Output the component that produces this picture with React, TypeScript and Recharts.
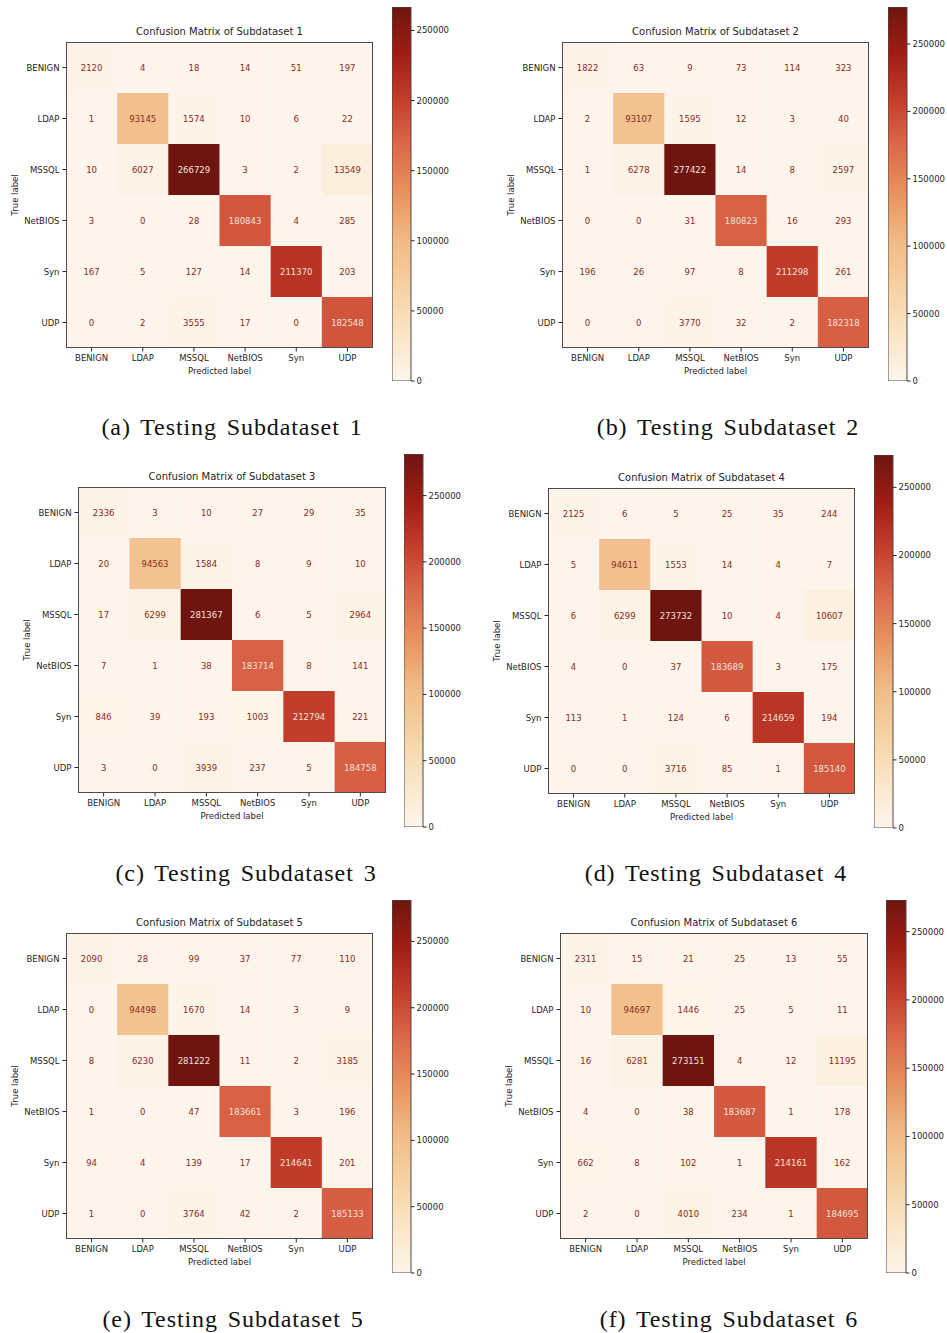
import React from 'react';
import { ScatterChart, Scatter, XAxis, YAxis, BarChart, Bar } from 'recharts';

// class labels (rows = true label, columns = predicted label)
const classes = ['BENIGN', 'LDAP', 'MSSQL', 'NetBIOS', 'Syn', 'UDP'];
const classIdx = [0, 1, 2, 3, 4, 5];

const matrix1 = [
  [2120, 4, 18, 14, 51, 197],
  [1, 93145, 1574, 10, 6, 22],
  [10, 6027, 266729, 3, 2, 13549],
  [3, 0, 28, 180843, 4, 285],
  [167, 5, 127, 14, 211370, 203],
  [0, 2, 3555, 17, 0, 182548],
];
const matrix2 = [
  [1822, 63, 9, 73, 114, 323],
  [2, 93107, 1595, 12, 3, 40],
  [1, 6278, 277422, 14, 8, 2597],
  [0, 0, 31, 180823, 16, 293],
  [196, 26, 97, 8, 211298, 261],
  [0, 0, 3770, 32, 2, 182318],
];
const matrix3 = [
  [2336, 3, 10, 27, 29, 35],
  [20, 94563, 1584, 8, 9, 10],
  [17, 6299, 281367, 6, 5, 2964],
  [7, 1, 38, 183714, 8, 141],
  [846, 39, 193, 1003, 212794, 221],
  [3, 0, 3939, 237, 5, 184758],
];
const matrix4 = [
  [2125, 6, 5, 25, 35, 244],
  [5, 94611, 1553, 14, 4, 7],
  [6, 6299, 273732, 10, 4, 10607],
  [4, 0, 37, 183689, 3, 175],
  [113, 1, 124, 6, 214659, 194],
  [0, 0, 3716, 85, 1, 185140],
];
const matrix5 = [
  [2090, 28, 99, 37, 77, 110],
  [0, 94498, 1670, 14, 3, 9],
  [8, 6230, 281222, 11, 2, 3185],
  [1, 0, 47, 183661, 3, 196],
  [94, 4, 139, 17, 214641, 201],
  [1, 0, 3764, 42, 2, 185133],
];
const matrix6 = [
  [2311, 15, 21, 25, 13, 55],
  [10, 94697, 1446, 25, 5, 11],
  [16, 6281, 273151, 4, 12, 11195],
  [4, 0, 38, 183687, 1, 178],
  [662, 8, 102, 1, 214161, 162],
  [2, 0, 4010, 234, 1, 184695],
];

const titles = [
  'Confusion Matrix of Subdataset 1',
  'Confusion Matrix of Subdataset 2',
  'Confusion Matrix of Subdataset 3',
  'Confusion Matrix of Subdataset 4',
  'Confusion Matrix of Subdataset 5',
  'Confusion Matrix of Subdataset 6',
];
const captions = [
  '(a) Testing Subdataset 1',
  '(b) Testing Subdataset 2',
  '(c) Testing Subdataset 3',
  '(d) Testing Subdataset 4',
  '(e) Testing Subdataset 5',
  '(f) Testing Subdataset 6',
];
const colorbarTicks = [0, 50000, 100000, 150000, 200000, 250000];

// OrRd-like colour ramp (as it looks in the figure)
const cmapStops: [number, string][] = [
  [0, '#fdf5eb'],
  [0.125, '#fae5c8'],
  [0.25, '#f5d2a3'],
  [0.375, '#f0bb87'],
  [0.5, '#e8935f'],
  [0.625, '#dc6a4c'],
  [0.75, '#c43e2d'],
  [0.875, '#a01d14'],
  [1, '#6e1510'],
];

function hexToRgb(h: string) {
  return [1, 3, 5].map((i) => parseInt(h.slice(i, i + 2), 16));
}

function cmap(t: number) {
  t = Math.max(0, Math.min(1, t));
  for (let i = 1; i < cmapStops.length; i++) {
    const [t1, c1] = cmapStops[i];
    const [t0, c0] = cmapStops[i - 1];
    if (t <= t1) {
      const f = (t - t0) / (t1 - t0);
      const a = hexToRgb(c0);
      const b = hexToRgb(c1);
      const rgb = a.map((v, k) => Math.round(v + (b[k] - v) * f));
      return `rgb(${rgb.join(',')})`;
    }
  }
  return cmapStops[cmapStops.length - 1][1];
}

const FONT = "'DejaVu Sans', sans-serif";
const TEXT = '#262626';
const tickStyle = { fontSize: 8.5, fill: TEXT, fontFamily: FONT };

type Box = { x: number; y: number; w: number; h: number };

// layout of the six panels
const panels = [
  { hm: { x: 66, y: 42, w: 307, h: 306 }, cb: { x: 392, y: 7, w: 19, h: 374 }, cap: { x: 232, y: 427 } },
  { hm: { x: 562, y: 42, w: 307, h: 306 }, cb: { x: 888, y: 7, w: 19, h: 374 }, cap: { x: 728, y: 427 } },
  { hm: { x: 78, y: 487, w: 308, h: 306 }, cb: { x: 404, y: 454, w: 19, h: 373 }, cap: { x: 246, y: 873 } },
  { hm: { x: 548, y: 488, w: 307, h: 306 }, cb: { x: 874, y: 455, w: 19, h: 373 }, cap: { x: 716, y: 873 } },
  { hm: { x: 66, y: 933, w: 307, h: 306 }, cb: { x: 392, y: 900, w: 19, h: 373 }, cap: { x: 233, y: 1319 } },
  { hm: { x: 560, y: 933, w: 308, h: 306 }, cb: { x: 886, y: 900, w: 20, h: 373 }, cap: { x: 729, y: 1319 } },
];
const matrices = [matrix1, matrix2, matrix3, matrix4, matrix5, matrix6];

function Heatmap({ m, box, title }: { m: number[][]; box: Box; title: string }) {
  const vmax = Math.max(...m.flat());
  const vmin = Math.min(...m.flat());
  const thresh = (vmax + vmin) / 2;
  const data = m.flatMap((row, i) => row.map((v, j) => ({ col: j, row: i, v })));
  const cw = box.w / 6;
  const ch = box.h / 6;
  const padL = 70;
  const padB = 30;
  const W = box.w + padL + 4;
  const H = box.h + padB;

  const renderCell = (p: any) => {
    const v = p.payload.v;
    return (
      <g>
        <rect
          x={p.cx - cw / 2}
          y={p.cy - ch / 2}
          width={cw + 0.5}
          height={ch + 0.5}
          fill={cmap(v / vmax)}
        />
        <text
          x={p.cx}
          y={p.cy}
          textAnchor="middle"
          dominantBaseline="central"
          fontSize={8.5}
          fontFamily={FONT}
          fill={v > thresh ? '#f4e2d6' : '#8e2a22'}
        >
          {v}
        </text>
      </g>
    );
  };

  return (
    <>
      <div
        style={{
          position: 'absolute',
          left: box.x,
          top: box.y - 16,
          width: box.w,
          textAlign: 'center',
          fontFamily: FONT,
          fontSize: 10,
          lineHeight: '12px',
          color: TEXT,
          whiteSpace: 'nowrap',
        }}
      >
        {title}
      </div>
      <div style={{ position: 'absolute', left: box.x - padL, top: box.y }}>
        <ScatterChart width={W} height={H} margin={{ top: 0, right: 4, left: 0, bottom: 0 }}>
          <XAxis
            type="number"
            dataKey="col"
            domain={[-0.5, 5.5]}
            allowDataOverflow
            ticks={classIdx}
            interval={0}
            tickFormatter={(i: number) => classes[i]}
            height={padB}
            axisLine={false}
            tickLine={{ stroke: TEXT }}
            tickSize={3.5}
            tickMargin={3}
            tick={tickStyle}
            label={{ value: 'Predicted label', position: 'insideBottom', offset: 4, style: { ...tickStyle } }}
          />
          <YAxis
            type="number"
            dataKey="row"
            domain={[-0.5, 5.5]}
            allowDataOverflow
            reversed
            ticks={classIdx}
            interval={0}
            tickFormatter={(i: number) => classes[i]}
            width={padL}
            axisLine={false}
            tickLine={{ stroke: TEXT }}
            tickSize={3.5}
            tickMargin={3}
            tick={tickStyle}
            label={{
              value: 'True label',
              angle: -90,
              position: 'insideLeft',
              offset: 19,
              style: { ...tickStyle, textAnchor: 'middle' },
            }}
          />
          <Scatter data={data} shape={renderCell} isAnimationActive={false} />
        </ScatterChart>
      </div>
      <div
        style={{
          position: 'absolute',
          left: box.x,
          top: box.y,
          width: box.w,
          height: box.h,
          boxSizing: 'border-box',
          border: '1px solid #4a4a4a',
          pointerEvents: 'none',
        }}
      />
    </>
  );
}

function Colorbar({ vmax, box, id }: { vmax: number; box: Box; id: string }) {
  const data = [{ name: 'cb', v: vmax }];
  const pad = 6;
  return (
    <div style={{ position: 'absolute', left: box.x, top: box.y - pad }}>
      <BarChart
        width={box.w + 52}
        height={box.h + pad * 2}
        data={data}
        margin={{ top: pad, right: 0, left: 0, bottom: pad }}
        barCategoryGap={0}
      >
        <defs>
          <linearGradient id={id} x1="0" y1="1" x2="0" y2="0">
            {cmapStops.map(([t, c]) => (
              <stop key={t} offset={`${t * 100}%`} stopColor={c} />
            ))}
          </linearGradient>
        </defs>
        <XAxis dataKey="name" hide />
        <YAxis
          orientation="right"
          domain={[0, vmax]}
          allowDataOverflow
          ticks={colorbarTicks}
          interval={0}
          width={52}
          axisLine={false}
          tickLine={{ stroke: TEXT }}
          tickSize={3.5}
          tickMargin={2}
          tick={tickStyle}
        />
        <Bar dataKey="v" fill={`url(#${id})`} stroke="#4a4a4a" strokeWidth={1} isAnimationActive={false} />
      </BarChart>
    </div>
  );
}

export default function App() {
  return (
    <div
      style={{
        position: 'absolute',
        left: 0,
        top: 0,
        width: 947,
        height: 1333,
        background: '#ffffff',
        overflow: 'hidden',
      }}
    >
      {panels.map((p, k) => {
        const vmax = Math.max(...matrices[k].flat());
        return (
          <React.Fragment key={k}>
            <Heatmap m={matrices[k]} box={p.hm} title={titles[k]} />
            <Colorbar vmax={vmax} box={p.cb} id={`cbgrad${k}`} />
            <div
              style={{
                position: 'absolute',
                left: p.cap.x - 200,
                top: p.cap.y - 14,
                width: 400,
                textAlign: 'center',
                fontFamily: "'Liberation Serif', serif",
                fontSize: 24,
                lineHeight: '28px',
                letterSpacing: 0.9,
                wordSpacing: 3,
                color: '#111',
                whiteSpace: 'nowrap',
              }}
            >
              {captions[k]}
            </div>
          </React.Fragment>
        );
      })}
    </div>
  );
}
